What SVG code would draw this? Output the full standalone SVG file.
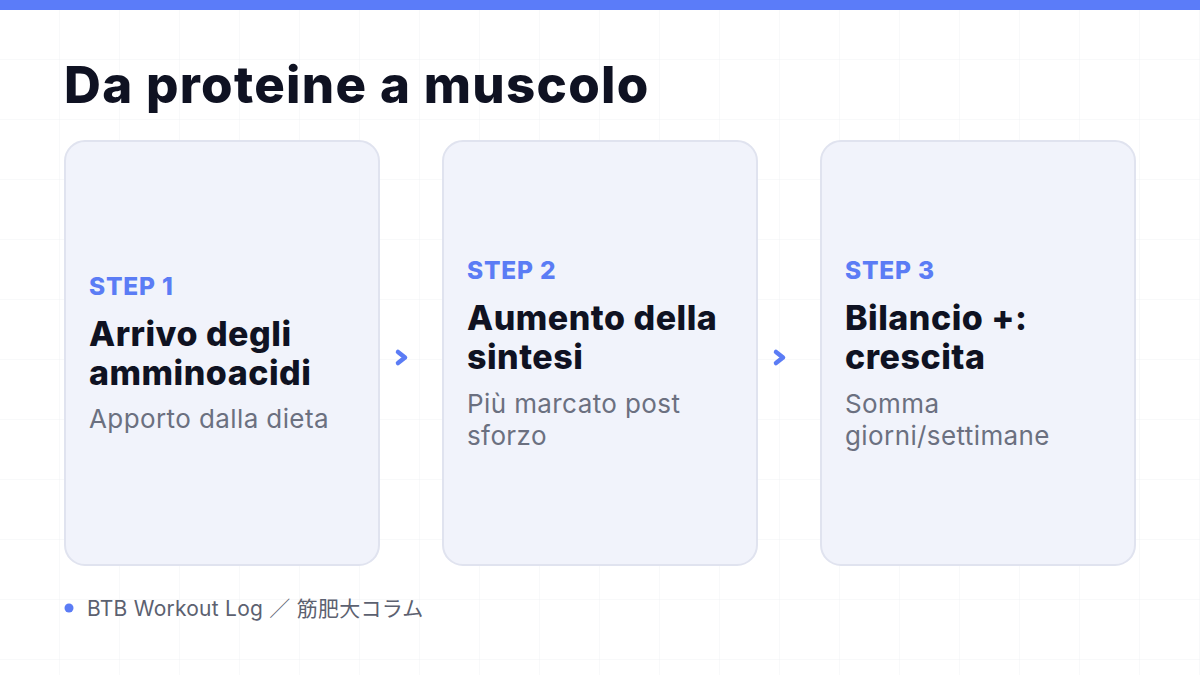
<svg xmlns="http://www.w3.org/2000/svg" width="1200" height="675" viewBox="0 0 1200 675">
<defs>
<pattern id="grid" width="60" height="60" patternUnits="userSpaceOnUse">
<path d="M60 0V60M0 60H60" fill="none" stroke="#f1f2f5" stroke-width="1"/>
</pattern>
</defs>
<style>
.card{fill:#f1f3fb;stroke:#e0e3ef;stroke-width:2}
.step{font-family:Inter,"Noto Sans",sans-serif;font-weight:800;font-size:24.5px;letter-spacing:0.8px;fill:#5b7cf5}
.ttl{font-family:Inter,"Noto Sans",sans-serif;font-weight:800;font-size:34px;letter-spacing:0.5px;fill:#0f1222}
.sub{font-family:Inter,"Noto Sans",sans-serif;font-weight:400;font-size:26px;letter-spacing:0.4px;fill:#6b7080}
.chev{fill:none;stroke:#5b7cf5;stroke-width:4.5;stroke-linecap:round;stroke-linejoin:round}
</style>
<rect width="1200" height="675" fill="#ffffff"/>
<rect width="1200" height="675" fill="url(#grid)"/>
<rect width="1200" height="10" fill="#5b7cf9"/>
<text x="64" y="103" font-family="Inter,'Noto Sans',sans-serif" font-weight="800" font-size="51" letter-spacing="1.3" fill="#0f1222">Da proteine a muscolo</text>
<g id="step1">
<rect class="card" x="65" y="141" width="314" height="424" rx="20"/>
<text class="step" x="89" y="295">STEP 1</text>
<text class="ttl" x="89" y="346">Arrivo degli</text>
<text class="ttl" x="89" y="385">amminoacidi</text>
<text class="sub" x="89" y="428">Apporto dalla dieta</text>
</g>
<g id="step2">
<rect class="card" x="443" y="141" width="314" height="424" rx="20"/>
<text class="step" x="467" y="279">STEP 2</text>
<text class="ttl" x="467" y="330">Aumento della</text>
<text class="ttl" x="467" y="369">sintesi</text>
<text class="sub" x="467" y="413">Più marcato post</text>
<text class="sub" x="467" y="445">sforzo</text>
</g>
<g id="step3">
<rect class="card" x="821" y="141" width="314" height="424" rx="20"/>
<text class="step" x="845" y="279">STEP 3</text>
<text class="ttl" x="845" y="330">Bilancio +:</text>
<text class="ttl" x="845" y="369">crescita</text>
<text class="sub" x="845" y="413">Somma</text>
<text class="sub" x="845" y="445">giorni/settimane</text>
</g>
<g id="connectors">
<path class="chev" d="M398 352L405 357.5L398 363"/>
<path class="chev" d="M776 352L783 357.5L776 363"/>
</g>
<g id="footer">
<circle cx="69" cy="608" r="4.5" fill="#5b7cf5"/>
<text x="87" y="616" font-family="Inter,'Noto Sans CJK JP',sans-serif" font-size="21" letter-spacing="0.25" fill="#5c6170">BTB Workout Log ／ 筋肥大コラム</text>
</g>
</svg>
